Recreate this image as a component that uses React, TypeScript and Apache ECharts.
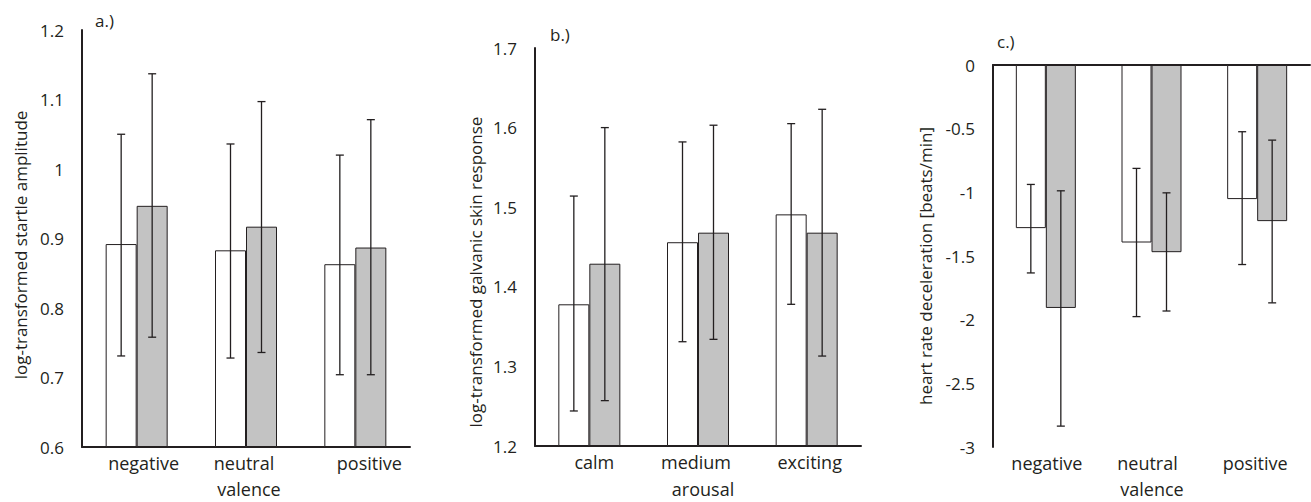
import React, { useEffect, useRef } from "react";
import * as echarts from "echarts";

const valenceCats = ["negative", "neutral", "positive"];
const arousalCats = ["calm", "medium", "exciting"];

const startleTicks = [0.6, 1.2, 0.1];
const startleWhite = [0.892, 0.883, 0.863];
const startleWhiteLow = [0.731, 0.728, 0.704];
const startleWhiteHigh = [1.05, 1.036, 1.02];
const startleGray = [0.947, 0.917, 0.887];
const startleGrayLow = [0.758, 0.736, 0.704];
const startleGrayHigh = [1.137, 1.097, 1.071];

const gsrTicks = [1.2, 1.7, 0.1];
const gsrWhite = [1.378, 1.456, 1.491];
const gsrWhiteLow = [1.244, 1.331, 1.378];
const gsrWhiteHigh = [1.514, 1.582, 1.605];
const gsrGray = [1.429, 1.468, 1.468];
const gsrGrayLow = [1.257, 1.334, 1.313];
const gsrGrayHigh = [1.6, 1.603, 1.623];

const hrTicks = [-3, 0, 0.5];
const hrWhite = [-1.281, -1.394, -1.053];
const hrWhiteLow = [-1.633, -1.976, -1.567];
const hrWhiteHigh = [-0.938, -0.812, -0.524];
const hrGray = [-1.908, -1.47, -1.226];
const hrGrayLow = [-2.836, -1.932, -1.868];
const hrGrayHigh = [-0.988, -1.004, -0.59];

const INK = "#231f20";
const GRAY = "#c3c3c3";
const FONT = "Open Sans";
const TICK_FS = 17;
const CAT_FS = 18;
const TITLE_FS = 17;

function errRenderer(offset: number) {
  return (params: any, api: any) => {
    const idx = api.value(0);
    const lo = api.coord([idx, api.value(1)]);
    const hi = api.coord([idx, api.value(2)]);
    const x = lo[0] + offset;
    const cap = 4;
    const style = { stroke: INK, lineWidth: 1.3 };
    return {
      type: "group",
      children: [
        { type: "line", shape: { x1: x, y1: lo[1], x2: x, y2: hi[1] }, style },
        { type: "line", shape: { x1: x - cap, y1: lo[1], x2: x + cap, y2: lo[1] }, style },
        { type: "line", shape: { x1: x - cap, y1: hi[1], x2: x + cap, y2: hi[1] }, style },
      ],
    };
  };
}

function errData(low: number[], high: number[]) {
  return low.map((l, i) => [i, l, high[i]]);
}

export default function App() {
  const ref = useRef<HTMLDivElement>(null);
  useEffect(() => {
    if (!ref.current) return;
    const chart = echarts.init(ref.current, undefined, { renderer: "svg" });

    const axisLine = { show: true, onZero: false, lineStyle: { color: INK, width: 2 } };
    const yAxisBase = (t: number[], gi: number, start: number) => ({
      type: "value",
      gridIndex: gi,
      min: t[0],
      max: t[1],
      interval: t[2],
      startValue: start,
      axisLine,
      axisTick: { show: false },
      splitLine: { show: false },
      axisLabel: { color: INK, fontFamily: FONT, fontSize: TICK_FS, margin: 18 },
    });
    // horizontal shift (px) of each category label, as in the reference
    const xAxisBase = (cats: string[], gi: number, showLine: boolean, shifts: number[]) => {
      const rich: any = {};
      shifts.forEach((s, i) => {
        rich["c" + i] = {
          color: INK, fontFamily: FONT, fontSize: CAT_FS,
          padding: s >= 0 ? [0, 0, 0, 2 * s] : [0, -2 * s, 0, 0],
        };
      });
      return {
        type: "category",
        gridIndex: gi,
        data: cats,
        position: "bottom",
        axisLine: showLine ? axisLine : { show: false, onZero: false },
        axisTick: { show: false },
        splitLine: { show: false },
        axisLabel: {
          interval: 0,
          hideOverlap: false,
          color: INK, fontFamily: FONT, fontSize: CAT_FS, margin: 7,
          formatter: (v: string, i: number) => `{c${i}|${v}}`,
          rich,
        },
      };
    };

    const bw = [31, 31, 30];
    const panels = [
      { w: startleWhite, g: startleGray, wl: startleWhiteLow, wh: startleWhiteHigh, gl: startleGrayLow, gh: startleGrayHigh },
      { w: gsrWhite, g: gsrGray, wl: gsrWhiteLow, wh: gsrWhiteHigh, gl: gsrGrayLow, gh: gsrGrayHigh },
      { w: hrWhite, g: hrGray, wl: hrWhiteLow, wh: hrWhiteHigh, gl: hrGrayLow, gh: hrGrayHigh },
    ];
    const series: any[] = [];
    panels.forEach((p, i) => {
      series.push({
        type: "bar", xAxisIndex: i, yAxisIndex: i, data: p.w, barWidth: bw[i], barGap: "0%",
        itemStyle: { color: "#ffffff", borderColor: INK, borderWidth: 1 },
      });
      series.push({
        type: "bar", xAxisIndex: i, yAxisIndex: i, data: p.g, barWidth: bw[i], barGap: "0%",
        itemStyle: { color: GRAY, borderColor: INK, borderWidth: 1 },
      });
      series.push({
        type: "custom", xAxisIndex: i, yAxisIndex: i, z: 5,
        renderItem: errRenderer(-bw[i] / 2), encode: { x: 0, y: [1, 2] },
        data: errData(p.wl, p.wh),
      });
      series.push({
        type: "custom", xAxisIndex: i, yAxisIndex: i, z: 5,
        renderItem: errRenderer(bw[i] / 2), encode: { x: 0, y: [1, 2] },
        data: errData(p.gl, p.gh),
      });
    });

    const txt = (text: string, x: number, y: number, fs: number, rot = 0, align = "center") => ({
      type: "text",
      x, y, rotation: rot,
      style: { text, fill: INK, font: `${fs}px "${FONT}"`, align, verticalAlign: "middle" },
    });

    chart.setOption({
      animation: false,
      backgroundColor: "#ffffff",
      grid: [
        { left: 82, top: 30, width: 328, height: 417 },
        { left: 535, top: 48, width: 326, height: 398 },
        { left: 993, top: 65, width: 317, height: 382 },
      ],
      xAxis: [
        xAxisBase(valenceCats, 0, true, [7, -2, 14]),
        xAxisBase(arousalCats, 1, true, [5, -2, 3]),
        xAxisBase(valenceCats, 2, false, [1, -4, -2]),
        {
          type: "category", gridIndex: 2, data: valenceCats, position: "top",
          axisLine, axisTick: { show: false }, axisLabel: { show: false }, splitLine: { show: false },
        },
      ],
      yAxis: [
        yAxisBase(startleTicks, 0, startleTicks[0]),
        yAxisBase(gsrTicks, 1, gsrTicks[0]),
        yAxisBase(hrTicks, 2, 0),
      ],
      series,
      graphic: [
        txt("a.)", 95, 20, TITLE_FS, 0, "left"),
        txt("b.)", 550, 34, TITLE_FS, 0, "left"),
        txt("c.)", 997, 41, TITLE_FS, 0, "left"),
        txt("log-transformed startle amplitude", 20, 245, TITLE_FS, Math.PI / 2),
        txt("log-transformed galvanic skin response", 475, 272, TITLE_FS, Math.PI / 2),
        txt("heart rate deceleration [beats/min]", 925, 266, TITLE_FS, Math.PI / 2),
        txt("valence", 249, 489, CAT_FS),
        txt("arousal", 703, 489, CAT_FS),
        txt("valence", 1152, 489, CAT_FS),
      ],
    });
    return () => chart.dispose();
  }, []);
  return (
    <div
      ref={ref}
      style={{ position: "fixed", left: 0, top: 0, width: 1311, height: 502, background: "#fff" }}
    />
  );
}
